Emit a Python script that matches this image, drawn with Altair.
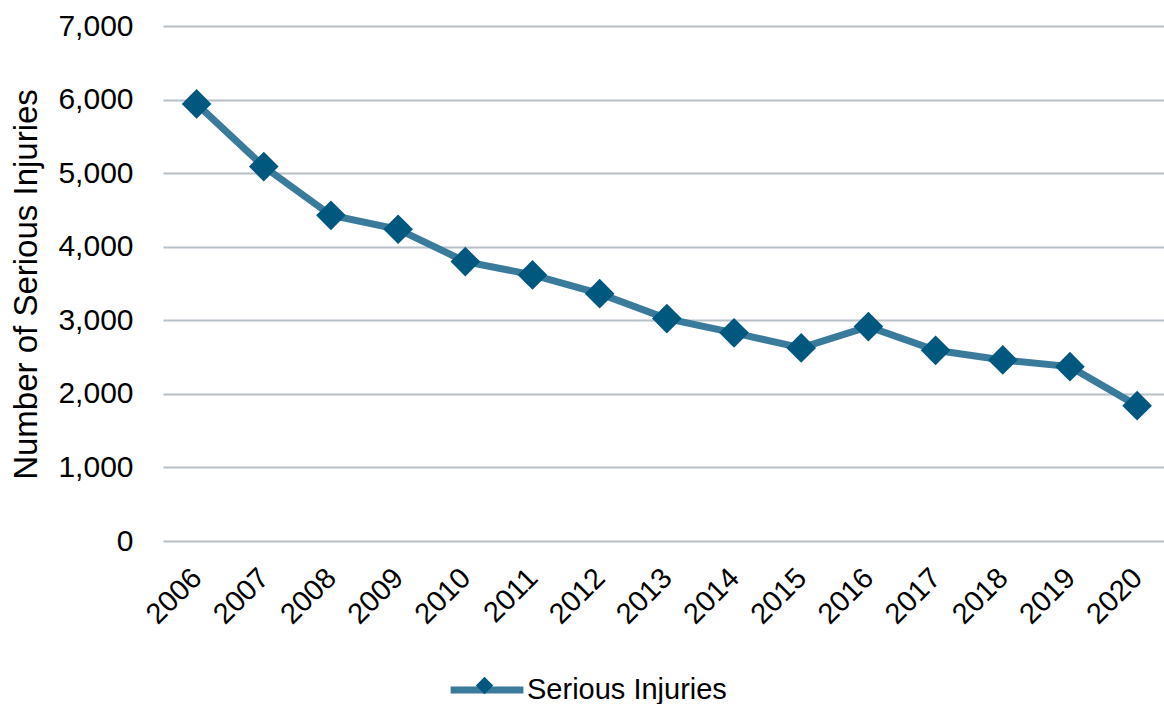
import altair as alt
import pandas as pd

# Serious injuries per year
years = [2006, 2007, 2008, 2009, 2010, 2011, 2012, 2013, 2014, 2015, 2016, 2017, 2018, 2019, 2020]
injuries = [5941, 5089, 4427, 4237, 3798, 3617, 3362, 3023, 2829, 2625, 2914, 2592, 2461, 2370, 1840]
series_name = "Serious Injuries"
y_ticks = [0, 1000, 2000, 3000, 4000, 5000, 6000, 7000]

df = pd.DataFrame({"year": years, "value": injuries, "series": series_name})

FONT = "Liberation Sans"
LINE_COLOR = "#3A7B9C"
MARKER_COLOR = "#00587F"
GRID_COLOR = "#B8C0C7"

base = alt.Chart(df).encode(
    x=alt.X(
        "year:Q",
        scale=alt.Scale(domain=[2005.5, 2020.4], nice=False, zero=False),
        axis=alt.Axis(
            values=years,
            format="d",
            labelAngle=-45,
            labelAlign="right",
            labelBaseline="middle",
            labelFontSize=29,
            labelFont=FONT,
            labelColor="#000000",
            labelPadding=32,
            ticks=False,
            tickSize=0,
            domain=False,
            grid=False,
            title=None,
        ),
    ),
    y=alt.Y(
        "value:Q",
        scale=alt.Scale(domain=[0, 7000], nice=False),
        axis=alt.Axis(
            values=y_ticks,
            format=",d",
            labelFontSize=30,
            labelFont=FONT,
            labelColor="#000000",
            labelPadding=30,
            ticks=False,
            tickSize=0,
            domain=False,
            grid=True,
            gridColor=GRID_COLOR,
            gridWidth=2,
            title="Number of Serious Injuries",
            titleFont=FONT,
            titleFontSize=33,
            titleFontWeight="normal",
            titleColor="#000000",
            titleAngle=-90,
            titleBaseline="middle",
            titleAlign="center",
            titleX=-137,
            titleY=258,
        ),
    ),
)

line = base.mark_line(strokeWidth=7).encode(
    color=alt.Color(
        "series:N",
        scale=alt.Scale(range=[LINE_COLOR]),
        legend=alt.Legend(
            orient="none",
            legendX=284,
            legendY=624,
            title=None,
            symbolType="stroke",
            symbolSize=5300,
            symbolStrokeWidth=7,
            labelFontSize=29,
            labelFont=FONT,
            labelColor="#000000",
            labelOffset=0,
            labelLimit=500,
            padding=0,
            zindex=1,
        ),
    )
)

points = base.mark_point(shape="diamond", filled=True, size=880, opacity=1).encode(
    fill=alt.Fill(
        "series:N",
        scale=alt.Scale(range=[MARKER_COLOR]),
        legend=alt.Legend(
            orient="none",
            legendX=312,
            legendY=650,
            title=None,
            symbolType="diamond",
            symbolSize=300,
            symbolOpacity=1,
            labelExpr="''",
            labelFontSize=1,
            padding=0,
            zindex=2,
        ),
    )
)

chart = (
    alt.layer(line, points)
    .resolve_scale(color="independent", fill="independent")
    .properties(
        width=1001,
        height=515,
        autosize=alt.AutoSizeParams(type="none"),
        padding={"left": 163, "top": 26, "right": 0, "bottom": 163},
        background="white",
    )
    .configure_view(stroke=None)
)

chart.save("out.html", embed_options={"renderer": "svg", "actions": False})
